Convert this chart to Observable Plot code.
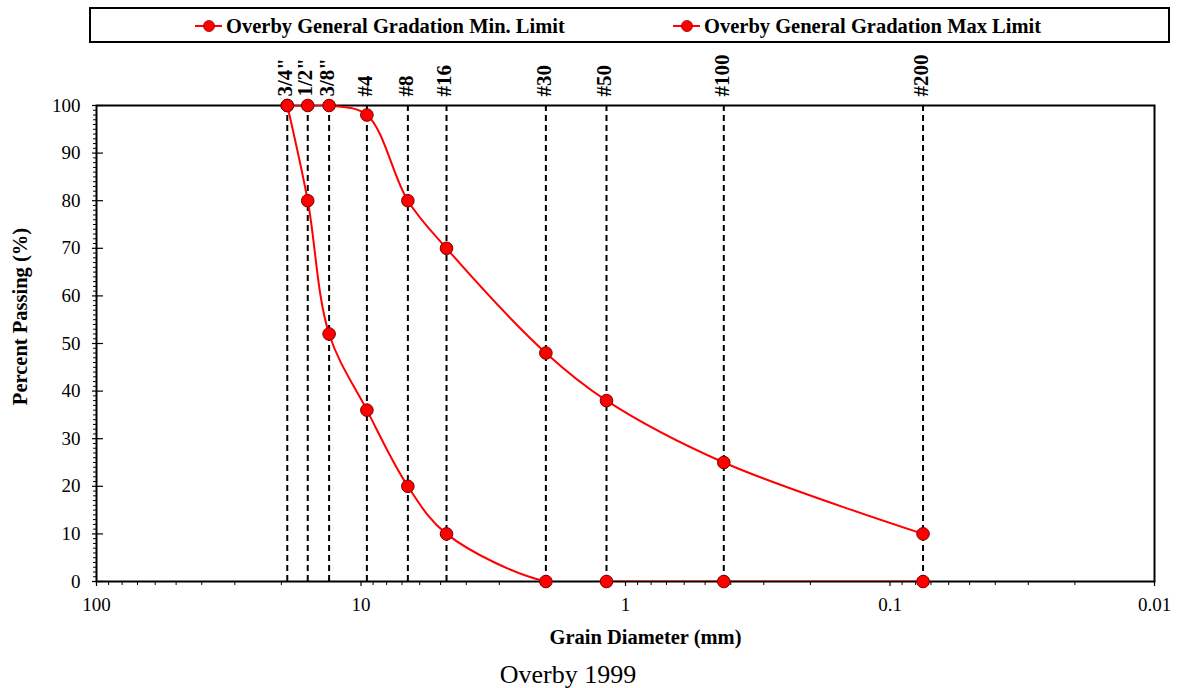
<!DOCTYPE html>
<html>
<head>
<meta charset="utf-8">
<script src="https://cdn.jsdelivr.net/npm/d3@7"></script>
<script src="https://cdn.jsdelivr.net/npm/@observablehq/plot@0.6"></script>
<style>
  html, body { margin: 0; padding: 0; background: #fff; }
  body { width: 1177px; height: 688px; position: relative; overflow: hidden; font-family: "Liberation Serif", "Times New Roman", serif; }
  #legend { position: absolute; left: 89px; top: 7px; width: 1081px; height: 36px; border: 2px solid #000; box-sizing: border-box; }
  .item { position: absolute; top: 17px; height: 30px; display: flex; align-items: center; transform: translateY(-50%); font-weight: bold; font-size: 20.5px; color: #000; white-space: nowrap; }
  .item svg { margin-right: 3px; }
  #chart { position: absolute; left: 0; top: 46px; }
  #caption { position: absolute; left: 0; width: 1136px; top: 660px; line-height: 30px; text-align: center; font-size: 26px; color: #000; }
</style>
</head>
<body>
<div id="legend"></div>
<div id="chart"></div>
<div id="caption">Overby 1999</div>
<script>
// ---- data ----
const sieveLabels = ['3/4"', '1/2"', '3/8"', '#4', '#8', '#16', '#30', '#50', '#100', '#200'];
const grainSize   = [19, 15.9, 13.2, 9.5, 6.65, 4.75, 2.0, 1.18, 0.425, 0.075];
const minPassing  = [100, 80, 52, 36, 20, 10, 0, 0, 0, 0];
const maxPassing  = [100, 100, 100, 98, 80, 70, 48, 38, 25, 10];
const seriesNames = ["Overby General Gradation Min. Limit", "Overby General Gradation Max Limit"];
const xMajorTicks = [100, 10, 1, 0.1, 0.01];
const xTickLabels = ["100", "10", "1", "0.1", "0.01"];
const yMajorTicks = [0, 10, 20, 30, 40, 50, 60, 70, 80, 90, 100];

// minor axis ticks (log decades and unit steps)
const xMinorTicks = [];
for (const base of [10, 1, 0.1, 0.01]) for (let m = 2; m <= 9; m++) xMinorTicks.push(+(m * base).toPrecision(6));
const yMinorTicks = d3.range(0, 101).filter(v => v % 10 !== 0);

const rows = sieveLabels.map((label, i) => ({label, size: grainSize[i], min: minPassing[i], max: maxPassing[i]}));

// ---- legend ----
const legend = document.getElementById("legend");
const legendX = [195 - 89, 673 - 89];
seriesNames.forEach((name, i) => {
  const el = document.createElement("div");
  el.className = "item";
  el.style.left = (legendX[i] - 2) + "px";
  el.innerHTML = `<svg width="28" height="14"><line x1="0" y1="7" x2="27" y2="7" stroke="#ff0000" stroke-width="2"/><circle cx="14" cy="7" r="5.5" fill="#ff0000" stroke="#8b0000" stroke-width="0.8"/></svg><span>${name}</span>`;
  legend.appendChild(el);
});

// ---- chart ----
const W = 1177, H = 612;
const mL = 96, mR = 23, mT = 59, mB = 77;
const plotW = W - mL - mR;

const chart = Plot.plot({
  width: W, height: H,
  marginLeft: mL, marginRight: mR, marginTop: mT, marginBottom: mB,
  style: {fontFamily: "Liberation Serif", fontSize: "19px", color: "#000", background: "white"},
  x: {type: "log", domain: [100, 0.01]},
  y: {domain: [0, 100]},
  marks: [
    Plot.ruleX(rows, {x: "size", y1: 0, y2: 100, stroke: "#000", strokeWidth: 2, strokeDasharray: "6,4"}),
    Plot.axisX({ticks: xMajorTicks, tickSize: 5, tickPadding: 11, tickFormat: d => xTickLabels[xMajorTicks.indexOf(d)], fontSize: 19, label: null, strokeWidth: 1.2}),
    Plot.axisX({ticks: xMinorTicks, tickSize: 4, tickFormat: () => "", label: null, strokeWidth: 1}),
    Plot.axisY({ticks: yMajorTicks, tickSize: 4, tickPadding: 12, fontSize: 19, label: null, strokeWidth: 1.2}),
    Plot.axisY({ticks: yMinorTicks, tickSize: 3, tickFormat: () => "", label: null, strokeWidth: 1}),
    Plot.tickY(yMajorTicks, {y: d => d, insetRight: plotW - 7, stroke: "#000", strokeWidth: 1.2}),
    Plot.frame({stroke: "#000", strokeWidth: 2}),
    Plot.line(rows, {x: "size", y: "min", curve: "catmull-rom", stroke: "#ff0000", strokeWidth: 2, clip: true}),
    Plot.line(rows, {x: "size", y: "max", curve: "catmull-rom", stroke: "#ff0000", strokeWidth: 2, clip: true}),
    Plot.dot(rows, {x: "size", y: "min", r: 6.3, fill: "#ff0000", stroke: "#7a0000", strokeWidth: 1}),
    Plot.dot(rows, {x: "size", y: "max", r: 6.3, fill: "#ff0000", stroke: "#7a0000", strokeWidth: 1}),
    Plot.text(rows, {x: "size", y: () => 100, text: "label", rotate: -90, textAnchor: "start", dx: -2, dy: -9, fontWeight: "bold", fontSize: 21, fill: "#000"}),
    Plot.text(["Grain Diameter (mm)"], {frameAnchor: "bottom", textAnchor: "middle", dx: 20, dy: 62, fontWeight: "bold", fontSize: 20.5, fill: "#000"}),
    Plot.text(["Percent Passing (%)"], {frameAnchor: "left", textAnchor: "middle", rotate: -90, dx: -76, dy: -27, fontWeight: "bold", fontSize: 20.5, fill: "#000"})
  ]
});
document.getElementById("chart").appendChild(chart);
</script>
</body>
</html>
